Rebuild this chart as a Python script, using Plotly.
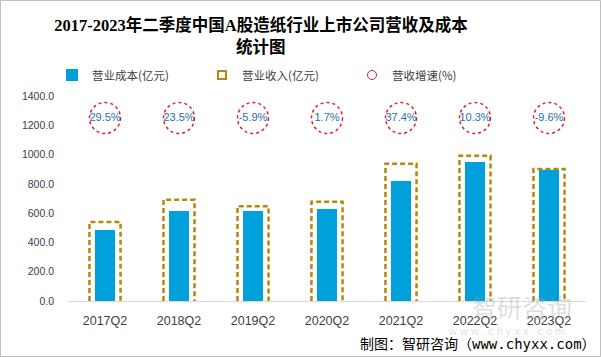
import plotly.graph_objects as go

categories = ["2017Q2", "2018Q2", "2019Q2", "2020Q2", "2021Q2", "2022Q2", "2023Q2"]
cost = [485, 615, 615, 628, 820, 950, 897]
revenue = [540, 692, 647, 678, 938, 992, 902]
growth = [29.5, 23.5, -5.9, 1.7, 37.4, 10.3, -9.6]
growth_level = 1250
y_ticks = [0, 200, 400, 600, 800, 1000, 1200, 1400]

W, H = 601, 357
L, R, T, B = 68, 15, 96, 56
PW, PH = W - L - R, H - T - B

BLUE = "#00A0DA"
GOLD = "#B8860B"
RED = "#E0202A"
TXT = "#404040"

xs = list(range(len(categories)))
half = 0.21


def py(px_from_top):
    return (T + PH - px_from_top) / PH


def px(px_from_left):
    return (px_from_left - L) / PW


fig = go.Figure()

fig.add_trace(go.Bar(
    x=xs, y=cost, width=0.27, marker=dict(color=BLUE, line=dict(width=0)),
    name="营业成本(亿元)", showlegend=True,
))

bx, by = [], []
for i, v in zip(xs, revenue):
    bx += [i - half, i - half, i + half, i + half, None]
    by += [0, v, v, 0, None]
fig.add_trace(go.Scatter(
    x=bx, y=by, mode="lines", line=dict(color=GOLD, width=2.5, dash="5px,3px"),
    showlegend=False, hoverinfo="skip",
))
fig.add_trace(go.Scatter(
    x=[None], y=[None], mode="markers", name="营业收入(亿元)",
    marker=dict(symbol="square-open", color=GOLD, size=8, line=dict(width=2, color=GOLD)),
))

fig.add_trace(go.Scatter(
    x=xs, y=[growth_level] * len(xs), mode="text",
    text=[f"{g:.1f}%" for g in growth],
    textfont=dict(family="Liberation Sans", size=11, color="#1F6FB0"),
    showlegend=False, hoverinfo="skip",
))
fig.add_trace(go.Scatter(
    x=[None], y=[None], mode="markers", name="营收增速(%)",
    marker=dict(symbol="circle-open", color=RED, size=9, line=dict(width=1, color=RED)),
))

shapes = []
for i in xs:
    shapes.append(dict(
        type="circle", xref="x", yref="y",
        xsizemode="pixel", ysizemode="pixel", xanchor=i, yanchor=growth_level,
        x0=-15.5, x1=15.5, y0=-15.5, y1=15.5,
        line=dict(color=RED, width=1.5, dash="dot"), layer="below",
    ))
shapes.append(dict(
    type="rect", xref="paper", yref="paper",
    x0=px(0.5), x1=px(W - 0.5), y0=py(H - 0.5), y1=py(0.5),
    line=dict(color="#bfbfbf", width=1),
))

annotations = [
    dict(text="<b>统计图</b>", xref="paper", yref="paper",
         x=px(261), y=py(47), xanchor="center", yanchor="middle", showarrow=False,
         font=dict(family="Liberation Serif, Noto Sans CJK SC", size=16.5, color="#000000")),
    dict(text="制图：智研咨询（www.chyxx.com）", xref="paper", yref="paper",
         x=px(598), y=py(344), xanchor="right", yanchor="middle",
         showarrow=False, font=dict(family="DejaVu Sans Mono, Noto Sans CJK SC", size=14, color="#000000")),
    dict(text="智研咨询", xref="paper", yref="paper",
         x=px(522), y=py(306), xanchor="center", yanchor="middle",
         showarrow=False, font=dict(family="Noto Sans CJK SC", size=25, color="rgba(150,160,175,0.35)")),
    dict(text="w w w . c h y x x . c o m", xref="paper", yref="paper",
         x=px(506), y=py(331), xanchor="center", yanchor="middle",
         showarrow=False, font=dict(family="Liberation Sans", size=11, color="rgba(150,160,175,0.35)")),
]

fig.update_layout(
    width=W, height=H,
    margin=dict(l=L, r=R, t=T, b=B, pad=0, autoexpand=False),
    paper_bgcolor="white", plot_bgcolor="white",
    title=dict(
        text="<b>2017-2023年二季度中国A股造纸行业上市公司营收及成本</b>",
        x=261 / W, xanchor="center", xref="container",
        y=1 - 25 / H, yanchor="middle", yref="container",
        font=dict(family="Liberation Serif, Noto Sans CJK SC", size=16.5, color="#000000"),
    ),
    legend=dict(
        orientation="h", x=px(52), y=py(75),
        xanchor="left", yanchor="middle",
        font=dict(family="Noto Sans CJK SC", size=11.5, color=TXT),
        entrywidth=105, entrywidthmode="pixels", bgcolor="rgba(0,0,0,0)",
        itemclick=False,
    ),
    xaxis=dict(
        range=[-0.5, len(categories) - 0.5], tickmode="array", tickvals=xs, ticktext=categories,
        showgrid=False, zeroline=False, showline=True, linecolor="#d9d9d9", linewidth=1,
        ticks="", ticklabelstandoff=8,
        tickfont=dict(family="Liberation Sans", size=12.5, color=TXT),
    ),
    yaxis=dict(
        range=[0, 1400], tickmode="array", tickvals=y_ticks, ticktext=[f"{v:.1f}" for v in y_ticks],
        showgrid=False, zeroline=False, showline=False, ticks="", ticklabelstandoff=13,
        tickfont=dict(family="Liberation Sans", size=10.5, color=TXT),
    ),
    shapes=shapes, annotations=annotations, showlegend=True,
)

fig.write_html("out.html", config={"displayModeBar": False},
               post_script="document.body.style.margin='0';")
